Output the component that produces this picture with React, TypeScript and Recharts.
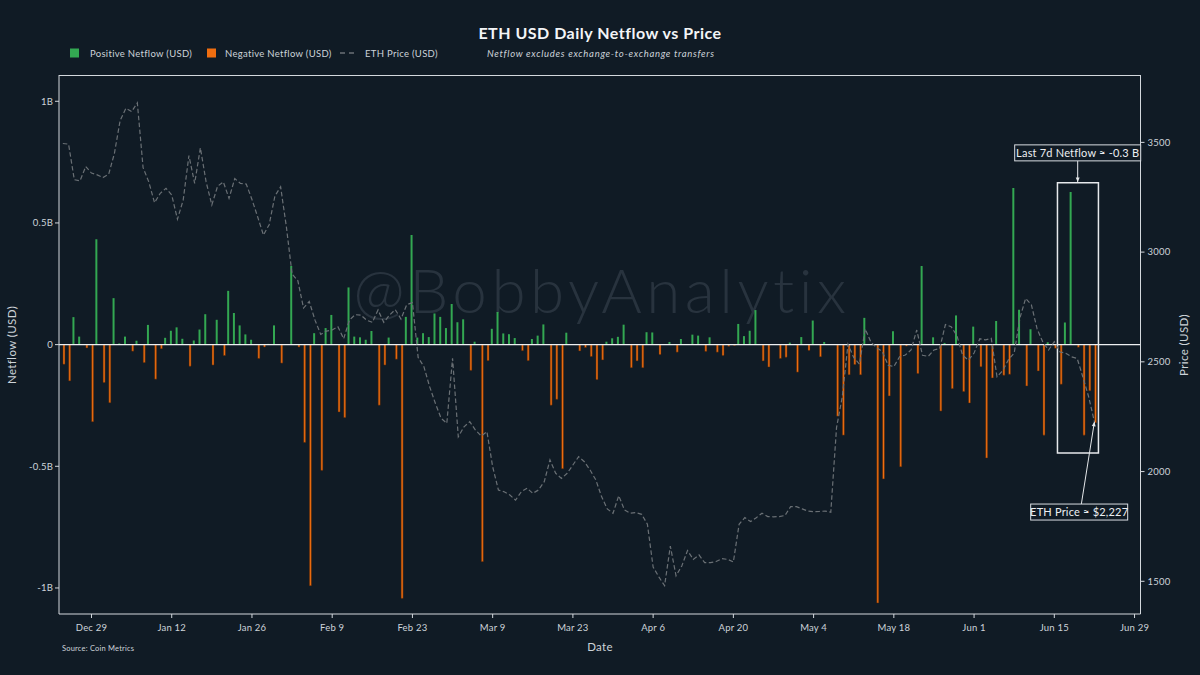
import React from 'react';
import {
  ComposedChart,
  Bar,
  Line,
  XAxis,
  YAxis,
  ReferenceLine,
  ReferenceArea,
  ReferenceDot,
} from 'recharts';

// ---- data (day index 0 = Dec 24, last = Jun 22) ----
const netflowB: number[] = [
  -0.081, -0.149, 0.113, 0.033, -0.014, -0.317, 0.433, -0.156, -0.239, 0.191,
  0.005, 0.033, -0.027, 0.016, -0.074, 0.081, -0.142, -0.017, 0.028, 0.057,
  0.071, 0.024, -0.089, 0.017, 0.062, 0.125, -0.084, 0.102, -0.045, 0.221,
  0.13, 0.079, 0.042, 0.02, -0.057, -0.01, 0.003, 0.079, -0.076, 0.0,
  0.323, -0.01, -0.402, -0.991, 0.047, -0.517, 0.068, 0.122, -0.277, -0.3,
  0.235, 0.033, 0.03, 0.02, 0.056, -0.249, -0.084, 0.029, -0.06, -1.043,
  0.114, 0.45, 0.029, 0.047, 0.031, 0.128, 0.114, 0.068, 0.167, 0.092,
  0.104, -0.106, 0.012, -0.892, -0.066, 0.065, 0.134, 0.046, 0.043, 0.027,
  -0.025, -0.066, 0.023, 0.037, 0.083, -0.249, -0.225, -0.51, 0.049, 0.0,
  -0.026, -0.012, -0.049, -0.144, -0.063, 0.012, 0.026, 0.032, 0.082, -0.095,
  -0.067, -0.095, 0.051, 0.05, -0.041, 0.0, 0.011, -0.031, 0.023, 0.0,
  0.041, 0.037, -0.028, 0.03, -0.031, -0.045, -0.007, -0.004, 0.085, 0.035,
  0.057, 0.142, -0.067, -0.092, 0.0, -0.057, -0.052, 0.008, -0.113, 0.031,
  -0.024, 0.099, -0.05, 0.011, 0.0, -0.294, -0.372, -0.124, -0.082, -0.124,
  0.11, 0.0, -1.062, -0.552, -0.211, 0.055, -0.502, -0.006, 0.0, -0.119,
  0.323, 0.0, 0.03, -0.273, 0.007, -0.181, 0.12, -0.193, -0.24, 0.074,
  -0.091, -0.466, -0.137, 0.097, -0.126, -0.122, 0.644, 0.143, -0.17, 0.063,
  -0.108, -0.372, 0.01, -0.015, -0.163, 0.091, 0.627, -0.011, -0.372, -0.19,
  -0.321,
];

const priceUSD: number[] = [
  3495, 3492, 3330, 3325, 3390, 3360, 3352, 3340, 3355, 3450,
  3600, 3655, 3640, 3680, 3385, 3320, 3225, 3268, 3291, 3260,
  3150, 3237, 3440, 3313, 3475, 3320, 3215, 3300, 3320, 3245,
  3335, 3313, 3310, 3240, 3160, 3078, 3125, 3255, 3298, 3116,
  2900, 2870, 2745, 2775, 2690, 2625, 2640, 2645, 2660, 2605,
  2690, 2715, 2713, 2690, 2680, 2736, 2680, 2713, 2738, 2695,
  2760, 2770, 2520, 2478, 2387, 2311, 2243, 2220, 2516, 2159,
  2204, 2227, 2189, 2162, 2182, 2022, 1916, 1908, 1893, 1870,
  1908, 1924, 1901, 1916, 1954, 2053, 1992, 1969, 1992, 2030,
  2068, 2045, 2007, 1962, 1886, 1830, 1810, 1890, 1825, 1810,
  1813, 1805, 1760, 1565, 1520, 1480, 1660, 1525, 1570, 1640,
  1600, 1620, 1585, 1585, 1590, 1603, 1600, 1588, 1760, 1790,
  1772, 1790, 1810, 1795, 1794, 1795, 1800, 1840, 1840, 1830,
  1820, 1817, 1818, 1820, 1815, 2200, 2340, 2580, 2520, 2490,
  2650, 2590, 2565, 2546, 2485, 2478, 2523, 2531, 2554, 2645,
  2530, 2525, 2554, 2561, 2670, 2660, 2620, 2530, 2508, 2540,
  2605, 2600, 2607, 2432, 2460, 2510, 2540, 2700, 2789, 2760,
  2650, 2590, 2554, 2592, 2545, 2539, 2523, 2515, 2430, 2340,
  2227,
];

const xTickDays = [5, 19, 33, 47, 61, 75, 89, 103, 117, 131, 145, 159, 173, 187];
const xTickLabels = ['Dec 29', 'Jan 12', 'Jan 26', 'Feb 9', 'Feb 23', 'Mar 9', 'Mar 23', 'Apr 6', 'Apr 20', 'May 4', 'May 18', 'Jun 1', 'Jun 15', 'Jun 29'];
const leftTicks = [-1, -0.5, 0, 0.5, 1];
const leftTickLabels = ['-1B', '-0.5B', '0', '0.5B', '1B'];
const rightTicks = [1500, 2000, 2500, 3000, 3500];

const data = netflowB.map((v, i) => ({
  d: i,
  pos: v > 0 ? v : null,
  neg: v < 0 ? v : null,
  price: priceUSD[i],
}));

const lastIdx = netflowB.length - 1;
const last7 = netflowB.slice(-7).reduce((a, b) => a + b, 0);
const lastPrice = priceUSD[lastIdx];

// ---- style ----
const W = 1200;
const H = 675;
const BG = '#101b25';
const FONT = 'Lato, "Noto Sans", sans-serif';
const TXT = '#cdd3d9';
const AX = '#d3d8dd';
const GREEN = '#33a852';
const ORANGE = '#f06e10';
const GRAY = '#6a7075';

const TextBox = ({ cx, cy, w, h, text }: any) => (
  <g>
    <rect x={cx - w / 2} y={cy - h / 2} width={w} height={h} fill={BG} stroke="#d8dde2" strokeWidth={1} />
    <text x={cx} y={cy + 4} textAnchor="middle" fontSize={11} letterSpacing={0.2} fill="#eceff2" fontFamily={FONT}>
      {text}
    </text>
  </g>
);

const Arrow = (p: any) => {
  const { x1, y1, x2, y2 } = p;
  const ang = Math.atan2(y2 - y1, x2 - x1);
  const L = 5;
  const a1 = ang + Math.PI - 0.4;
  const a2 = ang + Math.PI + 0.4;
  return (
    <g>
      <line x1={x1} y1={y1} x2={x2} y2={y2} stroke="#e4e7ea" strokeWidth={1} />
      <polygon
        points={`${x2},${y2} ${x2 + L * Math.cos(a1)},${y2 + L * Math.sin(a1)} ${x2 + L * Math.cos(a2)},${y2 + L * Math.sin(a2)}`}
        fill="#e4e7ea"
      />
    </g>
  );
};

const tickStyle = { fill: TXT, fontSize: 9.5, fontFamily: FONT, letterSpacing: 0.2 };

export default function App() {
  return (
    <div style={{ position: 'absolute', left: 0, top: 0, width: W, height: H, background: BG, overflow: 'hidden', fontFamily: FONT }}>
      <svg width={W} height={H} style={{ position: 'absolute', left: 0, top: 0 }}>
        <text x={602} y={313} textAnchor="middle" fontSize={62} fontWeight={300} letterSpacing={4.5} fill="#28333e" fontFamily={FONT}>
          @BobbyAnalytix
        </text>
        <text x={600} y={38.5} textAnchor="middle" fontSize={16} fontWeight={700} letterSpacing={0.5} fill="#f3f5f7" fontFamily={FONT}>
          ETH USD Daily Netflow vs Price
        </text>
        {/* legend */}
        <rect x={70} y={48.5} width={9} height={9} fill={GREEN} />
        <text x={90} y={56.5} fontSize={9.5} letterSpacing={0.3} fill={TXT} fontFamily={FONT}>Positive Netflow (USD)</text>
        <rect x={207} y={48.5} width={9} height={9} fill={ORANGE} />
        <text x={225} y={56.5} fontSize={9.5} letterSpacing={0.3} fill={TXT} fontFamily={FONT}>Negative Netflow (USD)</text>
        <line x1={340} y1={53} x2={358} y2={53} stroke={GRAY} strokeWidth={1.3} strokeDasharray="5 4" />
        <text x={365} y={56.5} fontSize={9.5} letterSpacing={0.3} fill={TXT} fontFamily={FONT}>ETH Price (USD)</text>
        <text x={487} y={56.5} fontSize={9.5} letterSpacing={0.7} fontStyle="italic" fill={TXT} fontFamily={FONT}>
          Netflow excludes exchange-to-exchange transfers
        </text>
        {/* axis labels */}
        <text x={16} y={345} transform="rotate(-90 16 345)" textAnchor="middle" fontSize={11.5} letterSpacing={0.4} fill={TXT} fontFamily={FONT}>
          Netflow (USD)
        </text>
        <text x={1188} y={345} transform="rotate(-90 1188 345)" textAnchor="middle" fontSize={11.5} letterSpacing={0.4} fill={TXT} fontFamily={FONT}>
          Price (USD)
        </text>
        <text x={600} y={651} textAnchor="middle" fontSize={11.5} letterSpacing={0.3} fill={TXT} fontFamily={FONT}>Date</text>
        <text x={62} y={651} fontSize={7.5} letterSpacing={0.2} fill={TXT} fontFamily={FONT}>Source: Coin Metrics</text>
      </svg>
      <div style={{ position: 'absolute', left: 0, top: 0 }}>
        <ComposedChart
          width={W}
          height={H}
          data={data}
          margin={{ top: 75, right: 9.5, bottom: 31, left: 14 }}
          barGap={0}
          barCategoryGap={0}
        >
          <XAxis
            dataKey="d"
            type="number"
            domain={[-0.67, 188.04]}
            allowDataOverflow
            ticks={xTickDays}
            interval={0}
            tickFormatter={(v: number) => xTickLabels[xTickDays.indexOf(v)] ?? ''}
            stroke={AX}
            tick={tickStyle}
            tickSize={4}
            tickMargin={6}
            height={30}
          />
          <YAxis
            yAxisId="left"
            domain={[-1.107, 1.108]}
            allowDataOverflow
            ticks={leftTicks}
            interval={0}
            tickFormatter={(v: number) => leftTickLabels[leftTicks.indexOf(v)] ?? ''}
            stroke={AX}
            tick={tickStyle}
            tickSize={4}
            tickMargin={2}
            width={45}
          />
          <YAxis
            yAxisId="right"
            orientation="right"
            domain={[1351, 3807]}
            allowDataOverflow
            ticks={rightTicks}
            interval={0}
            stroke={AX}
            tick={tickStyle}
            tickSize={4}
            tickMargin={3}
            width={50}
          />
          <Bar yAxisId="left" dataKey="pos" fill={GREEN} barSize={2} isAnimationActive={false} />
          <Bar yAxisId="left" dataKey="neg" fill={ORANGE} stroke="#4a2208" strokeWidth={0.5} barSize={2} isAnimationActive={false} />
          <ReferenceLine yAxisId="left" y={0} stroke="#eef0f2" strokeWidth={1.3} />
          <Line
            yAxisId="right"
            dataKey="price"
            type="linear"
            stroke={GRAY}
            strokeWidth={1.2}
            strokeDasharray="4.5 2.5"
            dot={false}
            isAnimationActive={false}
          />
          <ReferenceArea
            yAxisId="left"
            x1={lastIdx - 6.45}
            x2={lastIdx + 0.7}
            y1={-0.445}
            y2={0.665}
            fill="none"
            fillOpacity={0}
            stroke="#e6e9ec"
            strokeWidth={1.5}
          />
          <ReferenceLine
            yAxisId="left"
            segment={[{ x: 177.08, y: 0.755 }, { x: 177.08, y: 0.668 }]}
            shape={(p: any) => <Arrow {...p} />}
          />
          <ReferenceDot
            yAxisId="left"
            x={177.08}
            y={0.788}
            r={0}
            shape={(p: any) => <TextBox cx={p.cx} cy={p.cy} w={126} h={16} text={`Last 7d Netflow ≈ ${last7.toFixed(1)} B`} />}
          />
          <ReferenceLine
            yAxisId="right"
            segment={[{ x: 177.7, y: 1849 }, { x: lastIdx, y: lastPrice }]}
            shape={(p: any) => <Arrow {...p} />}
          />
          <ReferenceDot
            yAxisId="left"
            x={177.34}
            y={-0.688}
            r={0}
            shape={(p: any) => <TextBox cx={p.cx} cy={p.cy} w={97} h={16} text={`ETH Price ≈ $${lastPrice.toLocaleString('en-US')}`} />}
          />
        </ComposedChart>
      </div>
      <div style={{ position: 'absolute', left: 59, top: 74.5, width: 1081.5, height: 1, background: AX }} />
    </div>
  );
}
